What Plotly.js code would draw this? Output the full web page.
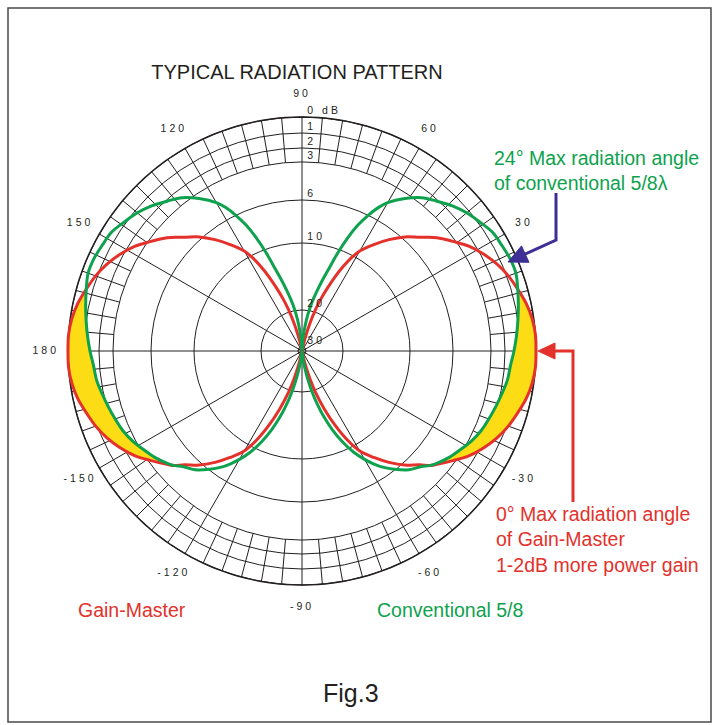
<!DOCTYPE html>
<html><head><meta charset="utf-8">
<script src="https://cdn.plot.ly/plotly-3.0.1.min.js"></script>
<style>
html,body{margin:0;padding:0;background:#fff;}
#chart{width:719px;height:725px;}
.polarlayer text{letter-spacing:3px;}
</style></head><body><div id="chart"></div>
<script>
// Right-hand half of the pattern (deg); the left half is its mirror image.
const angles = [90,86,84,82,80,78,76,74,72,70,68,66,64,62,60,56,52,48,44,40,36,32,28,24,20,16,12,8,4,0,
  -4,-8,-12,-16,-20,-24,-28,-32,-36,-40,-42,-44,-48,-52,-56,-60,-63,-66,-69,-72,-74,-76,-78,-80,-82,-86,-90];
// Level below 0 dB
const gainMasterDb = [35,35,35,35,35,29.7,27.0,23.2,19.7,17.8,16.0,14.0,12.1,10.3,9.3,8.1,6.9,5.8,5.0,4.0,3.2,2.4,1.8,1.3,0.9,0.6,0.3,0.1,0.0,0.0,
  0.0,0.1,0.3,0.6,0.9,1.3,1.8,2.4,3.2,4.0,4.4,5.0,5.8,6.9,8.1,9.3,11.2,14.0,16.9,19.7,23.2,27.0,29.7,35,35,35,35];
const conventionalDb = [35,28.4,25.7,22.7,19.9,18.4,16.9,15.2,13.3,10.6,8.7,7.2,6.0,5.1,4.4,3.4,2.6,2.1,1.6,1.2,0.9,0.6,0.5,0.4,0.4,0.6,0.8,1.0,1.2,1.4,
  1.6,1.7,1.9,2.1,2.3,2.5,2.8,3.2,3.6,4.1,4.4,4.8,5.3,6.1,7.1,8.4,9.5,11.3,13.6,16.1,17.9,19.7,22.7,25.7,28.1,31.3,35];

const radialTickDb = [0,1,2,3,6,10,20,30];
const radialTickText = ['0 dB','1','2','3','6','10','20','30'];
const spokeAngles = [0,30,60,90,120,150,180,210,240,270,300,330];
const angleLabelVals = [30,60,90,120,150,180,210,240,270,300,330];
const angleLabelText = ['30','60','90','120','150','180','-150','-120','-90','-60','-30'];

// Radial scale of the chart paper: dB -> fraction of the outer (0 dB) radius
const scaleDb = [0,1,2,3,6,10,20,30,35];
const scaleR  = [1,0.9316,0.8675,0.8077,0.6453,0.4615,0.1752,0.0171,0];
function dbToR(db){
  if (db <= scaleDb[0]) return scaleR[0];
  for (let i=1;i<scaleDb.length;i++){
    if (db <= scaleDb[i]){
      const t=(db-scaleDb[i-1])/(scaleDb[i]-scaleDb[i-1]);
      return scaleR[i-1]+t*(scaleR[i]-scaleR[i-1]);
    }
  }
  return 0;
}
function mirrorTheta(a){ return 180-a; }
function fullPattern(vals){
  const th = angles.concat(angles.slice().reverse().map(mirrorTheta));
  const r = vals.concat(vals.slice().reverse()).map(dbToR);
  return {th, r};
}
// band where the Gain-Master pattern lies outside the conventional one
function gainBand(){
  const i0 = angles.indexOf(0);
  let a=i0, b=i0;
  while (a-1>=0 && gainMasterDb[a-1] <= conventionalDb[a-1]) a--;
  while (b+1<angles.length && gainMasterDb[b+1] <= conventionalDb[b+1]) b++;
  const th=[], r=[];
  for (let i=a;i<=b;i++){ th.push(angles[i]); r.push(dbToR(gainMasterDb[i])); }
  for (let i=b;i>=a;i--){ th.push(angles[i]); r.push(dbToR(conventionalDb[i])); }
  return {th, r};
}

const RED='#E4312B', GREEN='#0EA24E', YELLOW='#FCDC14', BLUE='#3D2F95', INK='#231F20';
const FONT='Liberation Sans, Arial, sans-serif';
const SPL={shape:'spline',smoothing:1};
const R_OUT = 1.1;          // radial range, leaves room for the angle labels
const PX = 234;             // pixel radius of the 0 dB rim

const traces = [];
// spokes every 30 degrees and fine 5-degree marks in the 0-3 dB band
const gTh=[], gR=[];
spokeAngles.forEach(a=>{ gTh.push(a,a,null); gR.push(0,dbToR(0),null); });
for (let a=0;a<360;a+=5){
  if (a%30===0) continue;
  gTh.push(a,a,null); gR.push(dbToR(3),dbToR(0),null);
}
traces.push({type:'scatterpolar',mode:'lines',theta:gTh,r:gR,line:{color:INK,width:1},hoverinfo:'skip',connectgaps:false});

const band = gainBand();
traces.push({type:'scatterpolar',mode:'lines',theta:band.th,r:band.r,fill:'toself',fillcolor:YELLOW,line:Object.assign({width:0},SPL),hoverinfo:'skip'});
traces.push({type:'scatterpolar',mode:'lines',theta:band.th.map(mirrorTheta),r:band.r,fill:'toself',fillcolor:YELLOW,line:Object.assign({width:0},SPL),hoverinfo:'skip'});

// 0 dB rim
const rimTh=[]; for (let a=0;a<=360;a+=2) rimTh.push(a);
traces.push({type:'scatterpolar',mode:'lines',theta:rimTh,r:rimTh.map(()=>dbToR(0)),line:{color:INK,width:1.5},hoverinfo:'skip'});

const gm = fullPattern(gainMasterDb);
traces.push({type:'scatterpolar',mode:'lines',name:'Gain-Master',theta:gm.th,r:gm.r,line:Object.assign({color:RED,width:3},SPL)});
const cv = fullPattern(conventionalDb);
traces.push({type:'scatterpolar',mode:'lines',name:'Conventional 5/8',theta:cv.th,r:cv.r,line:Object.assign({color:GREEN,width:3},SPL)});

// dB labels beside the 90 degree spoke, just above each ring
traces.push({type:'scatterpolar',mode:'markers+text',theta:radialTickDb.map(()=>90),r:radialTickDb.map(d=>dbToR(d)+6/PX),
  marker:{size:7,opacity:0},text:radialTickText,textposition:'middle right',
  textfont:{family:FONT,size:10.5,color:INK},cliponaxis:false,hoverinfo:'skip'});
// angle labels outside the rim
traces.push({type:'scatterpolar',mode:'text',theta:angleLabelVals,r:angleLabelVals.map(()=>1.095),
  text:angleLabelText,textposition:'middle center',textfont:{family:FONT,size:10.5,color:INK},cliponaxis:false,hoverinfo:'skip'});

const W=719,H=725, CX=302, CY=351;
const px=x=>x/W, py=y=>1-y/H;
function path(pts,close){ return pts.map((p,i)=>(i?'L':'M')+px(p[0])+','+py(p[1])).join(' ')+(close?' Z':''); }
const RD = PX*R_OUT;

const layout = {
  width:W,height:H,margin:{l:0,r:0,t:0,b:0},paper_bgcolor:'#fff',showlegend:false,
  font:{family:FONT,color:INK},
  title:{text:'TYPICAL RADIATION PATTERN',x:px(297),xref:'paper',xanchor:'center',y:py(72),yref:'paper',yanchor:'middle',font:{family:FONT,size:20,color:INK}},
  polar:{
    domain:{x:[px(CX-RD),px(CX+RD)],y:[py(CY+RD),py(CY-RD)]},
    bgcolor:'rgba(0,0,0,0)',
    radialaxis:{range:[0,R_OUT],tickvals:radialTickDb.map(dbToR),showticklabels:false,ticks:'',showline:false,
      gridcolor:INK,gridwidth:1,layer:'below traces'},
    angularaxis:{rotation:0,direction:'counterclockwise',showticklabels:false,ticks:'',showgrid:false,showline:false,layer:'below traces'}
  },
  annotations:[
    {text:'24° Max radiation angle<br>of conventional 5/8λ',x:px(492),y:py(170),xref:'paper',yref:'paper',xanchor:'left',yanchor:'middle',align:'left',showarrow:false,font:{family:FONT,size:19.5,color:GREEN}},
    {text:'0° Max radiation angle<br>of Gain-Master<br>1-2dB more power gain',x:px(494),y:py(539),xref:'paper',yref:'paper',xanchor:'left',yanchor:'middle',align:'left',showarrow:false,font:{family:FONT,size:19.5,color:RED}},
    {text:'Gain-Master',x:px(131.5),y:py(610),xref:'paper',yref:'paper',xanchor:'center',yanchor:'middle',showarrow:false,font:{family:FONT,size:19.5,color:RED}},
    {text:'Conventional 5/8',x:px(450),y:py(610),xref:'paper',yref:'paper',xanchor:'center',yanchor:'middle',showarrow:false,font:{family:FONT,size:19.5,color:GREEN}},
    {text:'Fig.3',x:px(351),y:py(693),xref:'paper',yref:'paper',xanchor:'center',yanchor:'middle',showarrow:false,font:{family:FONT,size:25,color:INK}}
  ],
  shapes:[
    {type:'rect',xref:'paper',yref:'paper',x0:px(8),x1:px(711),y0:py(722),y1:py(8),line:{color:'#4a4a4a',width:1.5}},
    {type:'path',xref:'paper',yref:'paper',path:path([[556,193],[556,240],[524,254.6]]),line:{color:BLUE,width:3}},
    {type:'path',xref:'paper',yref:'paper',path:path([[508,262],[529,262.3],[521.5,245.9]],true),line:{color:BLUE,width:1},fillcolor:BLUE},
    {type:'path',xref:'paper',yref:'paper',path:path([[573,502],[573,351],[552,351]]),line:{color:RED,width:3}},
    {type:'path',xref:'paper',yref:'paper',path:path([[538,351],[555,343],[555,359]],true),line:{color:RED,width:1},fillcolor:RED}
  ]
};
Plotly.newPlot('chart',traces,layout,{displayModeBar:false,staticPlot:true});
</script></body></html>
